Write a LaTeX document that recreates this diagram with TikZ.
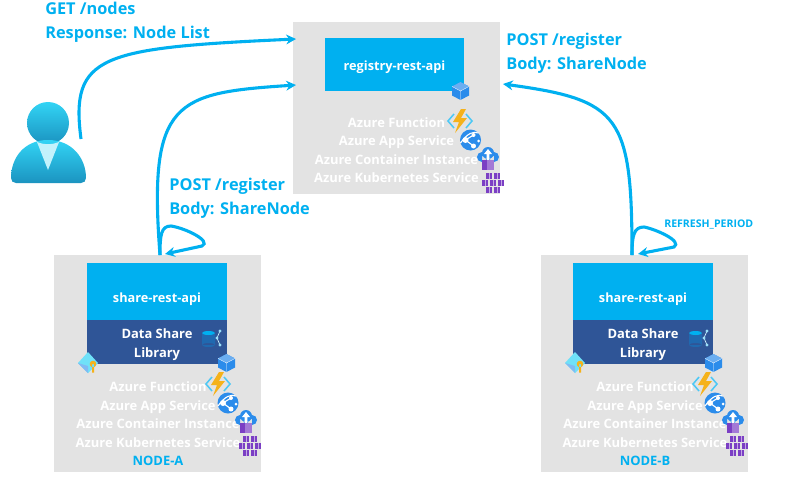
\documentclass[tikz,border=0pt]{standalone}
\usepackage{fontspec}
\setmainfont{Open Sans}
\usetikzlibrary{arrows.meta}
\definecolor{azcyan}{HTML}{00B0F0}
\definecolor{azdark}{HTML}{2F5597}
\definecolor{azgrey}{HTML}{E3E3E3}
\definecolor{azblue}{HTML}{2B8CEB}
\definecolor{azpurple}{HTML}{7B3FC4}
\definecolor{azyellow}{HTML}{F5B21B}
\definecolor{azsky}{HTML}{32D4F5}
\definecolor{azteal}{HTML}{1B93C0}
\tikzset{
    hostbox/.style = {
        shape=rectangle,
        fill=azgrey,
        minimum width=5.175cm
    },
    apibox/.style = {
        shape=rectangle,
        fill=azcyan,
        text=white,
        font=\fontsize{9.05}{11}\bfseries,
        minimum width=3.48cm
    },
    libbox/.style = {
        shape=rectangle,
        fill=azdark,
        text=white,
        inner ysep=0pt,
        text height=24.7pt,
        text depth=2pt,
        font=\fontsize{9.2}{13.5}\bfseries,
        align=center,
        minimum width=3.48cm,
        minimum height=1.1cm
    },
    svctext/.style = {
        text=white,
        inner sep=0pt,
        text height=9pt,
        text depth=2pt,
        font=\fontsize{9.2}{11}\bfseries
    },
    calltext/.style = {
        text=azcyan,
        inner sep=0pt,
        align=left,
        font=\fontsize{11.6}{16.7}\bfseries
    },
    smalltext/.style = {
        text=azcyan,
        inner sep=0pt,
        font=\fontsize{7.5}{9}\bfseries
    },
    call/.style = {
        draw=azcyan,
        line width=2.2pt,
        -{Stealth[length=7pt,width=7pt]}
    },
    cubeicon/.pic = {
        \fill[azblue] (0,-4.5) -- (8.5,-9) -- (17,-4.5) -- (17,4.5) -- (8.5,9) -- (0,4.5) -- cycle;
        \fill[azblue!70!white] (0,-4.5) -- (8.5,-9) -- (17,-4.5) -- (8.5,0) -- cycle;
        \draw[white,line width=0.2pt] (0,-4.5) -- (8.5,0) -- (17,-4.5) (8.5,0) -- (8.5,9);
    },
    funcicon/.pic = {
        \draw[azcyan!70,line width=1.1pt] (-6,-7) -- (-12,0) -- (-6,7) (6,-7) -- (12,0) -- (6,7);
        \fill[azyellow] (1,-12) -- (-7,1) -- (-1,1) -- (-5,12) -- (7,-3) -- (1,-3) -- (6,-12) -- cycle;
    },
    appicon/.pic = {
        \fill[azblue] (0,0) circle (10.5);
        \draw[white,line width=0.8pt] (-5,0) -- (3,-5) (-5,0) -- (3,6) (-10,3) .. controls (-3,-7) and (3,-9) .. (8,-7);
        \fill[white] (-5,0) circle (3) (3,-5) circle (2) (3,6) circle (2.5) (8,1) circle (1.5);
    },
    aciicon/.pic = {
        \fill[azblue] (-6,2) circle (5) (0,-2) circle (6) (6,2) circle (5) (-6,1) rectangle (6,7);
        \fill[white] (0,-6) -- (-4,-1) -- (-1.3,-1) -- (-1.3,5) -- (1.3,5) -- (1.3,-1) -- (4,-1) -- cycle;
        \fill[azpurple!70] (-6,5) rectangle (6,15);
        \fill[azpurple] (-6,5) rectangle (-1,15);
    },
    aksicon/.pic = {
        \foreach \ix/\iy in {-4/-7,4/-7,-8/0,0/0,8/0,-4/7,4/7}{
            \fill[azpurple] (\ix-3.3,\iy-3) rectangle (\ix+3.3,\iy+3);
            \fill[azpurple!45] (\ix-0.4,\iy-3) rectangle (\ix+0.4,\iy+3);
        }
    },
    shareicon/.pic = {
        \fill[azblue!75!black] (-10,-6) rectangle (3,6) (-3.5,6) ellipse (6.5 and 2);
        \fill[azcyan] (-3.5,-6) ellipse (6.5 and 2);
        \draw[white!80!azcyan,line width=0.5pt] (8,-8) -- (5,-1) -- (8,6);
        \fill[white!60!azcyan] (5,-1) circle (1.6) (8,-8) circle (1.6) (8,6) circle (1.6);
    },
    keyicon/.pic = {
        \fill[azsky!70!white] (-10,2) -- (0,-9) -- (10,2) -- (0,12) -- cycle;
        \fill[azblue!60] (-10,2) -- (0,5) -- (0,12) -- cycle;
        \fill[azyellow] (5,3) circle (3.3) (4,3) rectangle (6,11.5);
    },
    personicon/.pic = {
        \shade[top color=azsky,bottom color=azteal] (0,0) circle (21);
        \shade[top color=azsky,bottom color=azteal] (-37,55) .. controls (-37,35) and (-24,17) .. (0,17) .. controls (24,17) and (38,35) .. (38,55) .. controls (38,58) and (36,60) .. (33,60) -- (-32,60) .. controls (-35,60) and (-37,58) .. (-37,55) -- cycle;
        \fill[azsky!30] (-11,19) .. controls (-4,22) and (4,22) .. (11,19) -- (0,47) -- cycle;
    },
}
\begin{document}
\begin{tikzpicture}[x=0.025cm,y=-0.025cm]
    \useasboundingbox (0,0) rectangle (800,493);

    \node[hostbox, minimum height=4.3cm] (registry) at (396.5,108) {};
    \node[hostbox, minimum height=5.425cm] (nodea) at (157.5,363.5) {};
    \node[hostbox, minimum height=5.425cm] (nodeb) at (644.5,363.5) {};

    \node[apibox, minimum height=1.325cm, text height=10pt, text depth=2pt] (regapi) at (394.5,64.5) {registry-rest-api};
    \node[apibox, minimum height=1.425cm, text height=17pt, text depth=2pt] (shareapia) at (157,291.5) {share-rest-api};
    \node[libbox] (liba) at (157,342) {Data Share\\Library};
    \node[apibox, minimum height=1.425cm, text height=17pt, text depth=2pt] (shareapib) at (643,291.5) {share-rest-api};
    \node[libbox] (libb) at (643,342) {Data Share\\Library};

    \node[svctext] (regfunc) at (396.5,123) {Azure Function};
    \node[svctext] (regapp) at (396.5,141) {Azure App Service};
    \node[svctext] (regaci) at (396.5,159.5) {Azure Container Instance};
    \node[svctext] (regaks) at (396.5,178) {Azure Kubernetes Service};

    \node[svctext] (afunc) at (158,387) {Azure Function};
    \node[svctext] (aapp) at (158,405.5) {Azure App Service};
    \node[svctext] (aaci) at (158,424) {Azure Container Instance};
    \node[svctext] (aaks) at (158,442.5) {Azure Kubernetes Service};
    \node[svctext, text=azcyan] (alabel) at (158,461) {NODE-A};

    \node[svctext] (bfunc) at (645,387) {Azure Function};
    \node[svctext] (bapp) at (645,405.5) {Azure App Service};
    \node[svctext] (baci) at (645,424) {Azure Container Instance};
    \node[svctext] (baks) at (645,442.5) {Azure Kubernetes Service};
    \node[svctext, text=azcyan] (blabel) at (645,461) {NODE-B};

    \pic at (452,91) {cubeicon};
    \pic at (460,121) {funcicon};
    \pic at (470.5,140) {appicon};
    \pic at (488,155) {aciicon};
    \pic at (493,182.5) {aksicon};

    \pic at (218,363) {cubeicon};
    \pic at (218,384) {funcicon};
    \pic at (228,403) {appicon};
    \pic at (246,418) {aciicon};
    \pic at (250,445.5) {aksicon};
    \pic at (212,339) {shareicon};
    \pic at (88,361) {keyicon};

    \pic at (705,363) {cubeicon};
    \pic at (705,384) {funcicon};
    \pic at (715,403) {appicon};
    \pic at (733,418) {aciicon};
    \pic at (737,445.5) {aksicon};
    \pic at (699,339) {shareicon};
    \pic at (575,361) {keyicon};

    \pic at (48,123) {personicon};

    \node[calltext, anchor=north west] (getlabel) at (45,2) {GET /nodes\\Response: Node List};
    \node[calltext, anchor=north west] (postleft) at (169,178) {POST /register\\Body: ShareNode};
    \node[calltext, anchor=north west] (postright) at (506,33) {POST /register\\Body: ShareNode};
    \node[smalltext, anchor=west] (period) at (664,225) {REFRESH\_PERIOD};

    \coordinate (user) at (81,139);
    \coordinate (reguser) at (296,39);
    \coordinate (regleft) at (296,85);
    \coordinate (regright) at (503,84);
    \coordinate (afrom) at (160,255);
    \coordinate (ato) at (165,254);
    \coordinate (bfrom) at (632,255);
    \coordinate (bto) at (638,254);

    % calls into the registry
    \path[call] (user) .. controls (70,55) and (100,48) .. (reguser);
    \path[call] (afrom) .. controls (148,100) and (175,93) .. (regleft);
    \path[call] (bfrom) .. controls (632,115) and (620,100) .. (regright);

    % refresh loops
    \path[call] (afrom) .. controls (160,235) and (161,226) .. (171,226) .. controls (185,228) and (212,241) .. (202,246) -- (ato);
    \path[call] (bfrom) .. controls (632,235) and (634,227) .. (644,227) .. controls (655,229) and (683,241) .. (674,247) -- (bto);
\end{tikzpicture}
\end{document}
